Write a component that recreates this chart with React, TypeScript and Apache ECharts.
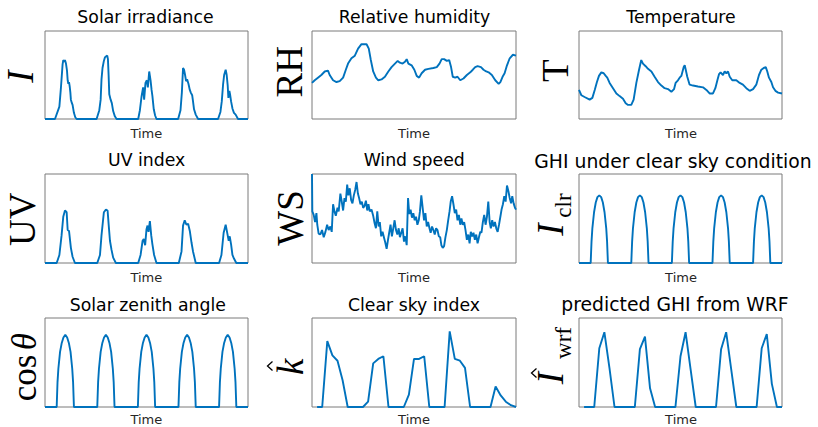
import React, { useEffect, useRef } from 'react';
import * as echarts from 'echarts';

const titles = [
  'Solar irradiance', 'Relative humidity', 'Temperature',
  'UV index', 'Wind speed', 'GHI under clear sky condition',
  'Solar zenith angle', 'Clear sky index', 'predicted GHI from WRF',
];
const xLabel = 'Time';

// [hour, normalised value]
const solarIrradiance = [
  [0, 0], [5.9, 0], [8.5, 0.14], [9.4, 0.35], [10.4, 0.62], [10.8, 0.67], [11.4, 0.65], [11.8, 0.67], [12.4, 0.63], [13.0, 0.55], [13.4, 0.44], [13.8, 0.4], [14.2, 0.42], [14.6, 0.37], [15.0, 0.3], [15.3, 0.22], [15.9, 0.18], [16.3, 0.16], [17.1, 0.07], [17.9, 0.02], [18.7, 0],
  [30.5, 0], [32.1, 0.1], [32.9, 0.22], [33.4, 0.45], [34.0, 0.58], [34.8, 0.66], [35.4, 0.7], [36.0, 0.71], [36.8, 0.72], [37.2, 0.68], [37.6, 0.5], [38.0, 0.28], [38.8, 0.22], [39.5, 0.18], [40.3, 0.09], [41.3, 0.03], [42.3, 0],
  [55.1, 0], [56.1, 0.1], [57.1, 0.26], [58.0, 0.36], [58.6, 0.22], [59.4, 0.41], [60.2, 0.44], [60.8, 0.36], [61.6, 0.54], [62.4, 0.44], [63.0, 0.33], [63.5, 0.26], [64.3, 0.11], [65.1, 0.04], [65.9, 0],
  [78.7, 0], [80.1, 0.1], [80.9, 0.3], [81.6, 0.58], [82.2, 0.56], [82.8, 0.5], [83.4, 0.43], [84.0, 0.45], [84.8, 0.4], [85.6, 0.33], [86.2, 0.3], [87.0, 0.27], [87.5, 0.2], [88.1, 0.11], [89.1, 0.05], [90.5, 0],
  [102.3, 0], [103.7, 0.08], [104.5, 0.2], [105.3, 0.4], [105.9, 0.5], [106.8, 0.56], [107.4, 0.5], [108.0, 0.38], [108.4, 0.24], [109.0, 0.32], [109.4, 0.28], [110.0, 0.2], [110.8, 0.12], [111.7, 0.07], [112.7, 0.05], [114.1, 0], [120, 0],
];

const relativeHumidity = [
  [0, 0.41], [1.6, 0.44], [3.5, 0.47], [5.5, 0.5], [7.5, 0.54], [9.4, 0.55], [10.4, 0.5], [12.4, 0.44], [14.4, 0.42], [16.3, 0.43], [18.3, 0.47], [19.9, 0.56], [21.2, 0.63], [23.2, 0.69], [25.2, 0.72], [27.1, 0.8], [29.1, 0.85], [32.1, 0.85], [33.4, 0.8], [34.6, 0.67], [36.0, 0.54], [37.6, 0.47], [39.0, 0.44], [40.9, 0.45], [42.9, 0.48], [44.9, 0.54], [46.8, 0.59], [48.8, 0.63], [50.4, 0.66], [51.7, 0.64], [53.3, 0.63], [54.7, 0.65], [55.7, 0.68], [56.7, 0.63], [58.6, 0.61], [60.2, 0.56], [61.6, 0.49], [63.0, 0.47], [64.5, 0.52], [66.5, 0.56], [68.5, 0.57], [71.4, 0.58], [73.4, 0.59], [75.0, 0.63], [76.3, 0.68], [77.7, 0.68], [79.3, 0.66], [80.7, 0.67], [81.8, 0.59], [82.8, 0.48], [84.2, 0.47], [85.6, 0.48], [87.2, 0.44], [89.1, 0.46], [91.1, 0.5], [93.1, 0.53], [94.6, 0.56], [96.0, 0.59], [97.4, 0.6], [99.4, 0.59], [100.9, 0.56], [102.5, 0.54], [103.9, 0.53], [105.8, 0.5], [107.8, 0.44], [109.8, 0.4], [110.8, 0.42], [112.1, 0.48], [113.3, 0.52], [114.7, 0.61], [116.3, 0.69], [118.2, 0.73], [120, 0.72],
];

const temperature = [
  [0, 0.33], [1.4, 0.27], [3.3, 0.25], [6.3, 0.22], [7.9, 0.24], [9.3, 0.33], [10.6, 0.42], [11.8, 0.49], [13.2, 0.53], [14.6, 0.52], [15.8, 0.49], [16.7, 0.47], [18.1, 0.41], [20.1, 0.35], [22.1, 0.29], [24.0, 0.26], [26.0, 0.23], [27.6, 0.18], [29.0, 0.16], [30.9, 0.16], [32.3, 0.22], [33.9, 0.41], [35.5, 0.56], [36.8, 0.67], [37.8, 0.63], [39.4, 0.6], [40.8, 0.57], [42.8, 0.54], [44.7, 0.48], [46.7, 0.42], [48.7, 0.38], [50.6, 0.35], [52.6, 0.34], [54.6, 0.31], [56.2, 0.34], [57.1, 0.41], [58.5, 0.44], [59.5, 0.47], [60.5, 0.49], [61.9, 0.59], [62.5, 0.61], [63.1, 0.56], [64.0, 0.48], [65.4, 0.39], [67.4, 0.38], [70.3, 0.37], [73.3, 0.36], [75.3, 0.33], [77.2, 0.29], [79.2, 0.29], [80.6, 0.35], [81.8, 0.44], [82.8, 0.51], [83.7, 0.53], [85.1, 0.5], [86.1, 0.54], [87.1, 0.52], [88.1, 0.54], [89.1, 0.48], [90.6, 0.44], [93.0, 0.44], [95.0, 0.41], [96.9, 0.39], [98.9, 0.35], [100.9, 0.32], [102.9, 0.34], [104.8, 0.39], [106.4, 0.5], [107.8, 0.56], [109.2, 0.58], [110.4, 0.59], [111.3, 0.54], [112.3, 0.47], [113.7, 0.42], [114.7, 0.36], [116.1, 0.32], [117.7, 0.3], [120, 0.29],
];

const uvIndex = [
  [0, 0], [6.9, 0], [8.5, 0.09], [9.8, 0.31], [10.8, 0.52], [11.8, 0.59], [12.8, 0.57], [13.4, 0.37], [14.2, 0.36], [15.3, 0.17], [16.3, 0.07], [17.7, 0],
  [30.9, 0], [32.5, 0.09], [33.4, 0.31], [34.8, 0.57], [36.0, 0.6], [37.0, 0.59], [37.6, 0.44], [38.4, 0.25], [39.3, 0.15], [40.3, 0.06], [41.9, 0],
  [55.1, 0], [56.5, 0.09], [57.7, 0.25], [58.4, 0.27], [59.2, 0.2], [60.0, 0.38], [60.6, 0.42], [61.2, 0.35], [62.0, 0.47], [62.8, 0.31], [63.5, 0.21], [64.5, 0.09], [65.9, 0],
  [79.1, 0], [80.7, 0.13], [81.6, 0.42], [82.6, 0.48], [83.6, 0.43], [84.6, 0.44], [85.6, 0.36], [86.6, 0.23], [87.5, 0.13], [89.1, 0],
  [102.9, 0], [104.3, 0.09], [105.6, 0.34], [106.8, 0.43], [107.8, 0.33], [108.6, 0.25], [109.2, 0.3], [110.0, 0.21], [110.8, 0.09], [111.7, 0.05], [113.1, 0], [120, 0],
];

const windSpeed = [
  [0, 1.0], [0.2, 0.58], [1.0, 0.54], [1.8, 0.46], [2.6, 0.56], [3.1, 0.43], [3.9, 0.33], [4.9, 0.32], [5.9, 0.37], [6.9, 0.29], [7.9, 0.35], [8.9, 0.43], [9.8, 0.37], [10.8, 0.41], [11.6, 0.35], [12.4, 0.66], [13.2, 0.58], [14.0, 0.53], [15.0, 0.62], [15.7, 0.58], [16.7, 0.78], [17.5, 0.69], [18.3, 0.59], [19.1, 0.73], [19.9, 0.69], [20.7, 0.88], [21.4, 0.76], [22.2, 0.84], [23.0, 0.71], [23.8, 0.67], [24.6, 0.76], [25.4, 0.82], [26.2, 0.91], [27.0, 0.78], [27.7, 0.73], [28.5, 0.66], [29.3, 0.69], [30.1, 0.62], [30.9, 0.64], [31.7, 0.7], [32.5, 0.59], [33.2, 0.66], [34.0, 0.58], [35.0, 0.6], [36.0, 0.53], [36.8, 0.45], [37.6, 0.39], [38.4, 0.58], [39.2, 0.41], [39.9, 0.46], [40.7, 0.3], [41.5, 0.35], [42.3, 0.29], [43.1, 0.23], [43.9, 0.16], [44.7, 0.26], [45.4, 0.34], [46.2, 0.43], [47.0, 0.3], [47.8, 0.39], [48.6, 0.48], [49.4, 0.37], [50.2, 0.32], [51.0, 0.39], [51.7, 0.29], [52.5, 0.34], [53.3, 0.39], [54.1, 0.24], [54.9, 0.3], [55.7, 0.2], [56.5, 0.73], [57.2, 0.55], [58.0, 0.6], [58.8, 0.51], [59.6, 0.56], [60.4, 0.48], [61.2, 0.52], [62.0, 0.43], [62.8, 0.48], [63.5, 0.58], [64.3, 0.76], [65.1, 0.62], [65.9, 0.48], [66.7, 0.56], [67.5, 0.41], [68.3, 0.46], [69.1, 0.39], [69.8, 0.34], [70.6, 0.41], [71.4, 0.37], [72.2, 0.32], [73.0, 0.39], [73.8, 0.37], [74.6, 0.3], [75.4, 0.29], [76.1, 0.2], [76.9, 0.17], [77.7, 0.19], [78.5, 0.29], [79.3, 0.37], [80.1, 0.48], [80.9, 0.58], [81.6, 0.69], [82.4, 0.75], [83.2, 0.66], [84.0, 0.56], [84.8, 0.6], [85.6, 0.48], [86.4, 0.54], [87.2, 0.43], [87.9, 0.5], [88.7, 0.43], [89.5, 0.46], [90.3, 0.37], [91.1, 0.26], [91.9, 0.32], [92.7, 0.22], [93.4, 0.35], [94.2, 0.3], [95.0, 0.34], [95.8, 0.26], [96.6, 0.32], [97.4, 0.22], [98.2, 0.29], [99.0, 0.35], [99.7, 0.34], [100.5, 0.46], [101.3, 0.54], [102.1, 0.43], [102.9, 0.52], [103.7, 0.69], [104.5, 0.46], [105.2, 0.39], [106.0, 0.48], [106.8, 0.41], [107.6, 0.46], [108.4, 0.39], [109.2, 0.35], [110.0, 0.43], [110.8, 0.52], [111.5, 0.6], [112.3, 0.66], [113.1, 0.75], [113.9, 0.69], [114.7, 0.87], [115.5, 0.81], [116.3, 0.73], [117.1, 0.67], [117.8, 0.75], [118.6, 0.67], [119.4, 0.62], [120, 0.6],
];

const clearSkyGhi = [
  [0, 0], [6.9, 0], [7.4, 0.24], [7.9, 0.39], [8.9, 0.57], [9.9, 0.68], [10.9, 0.74], [12.0, 0.76], [13.1, 0.74], [14.1, 0.68], [15.1, 0.57], [16.1, 0.39], [16.6, 0.24], [17.1, 0],
  [30.9, 0], [31.4, 0.24], [31.9, 0.39], [32.9, 0.57], [33.9, 0.68], [34.9, 0.74], [36.0, 0.76], [37.1, 0.74], [38.1, 0.68], [39.1, 0.57], [40.1, 0.39], [40.6, 0.24], [41.1, 0],
  [54.9, 0], [55.4, 0.24], [55.9, 0.39], [56.9, 0.57], [57.9, 0.68], [58.9, 0.74], [60.0, 0.76], [61.1, 0.74], [62.1, 0.68], [63.1, 0.57], [64.1, 0.39], [64.6, 0.24], [65.1, 0],
  [78.9, 0], [79.4, 0.24], [79.9, 0.39], [80.9, 0.57], [81.9, 0.68], [82.9, 0.74], [84.0, 0.76], [85.1, 0.74], [86.1, 0.68], [87.1, 0.57], [88.1, 0.39], [88.6, 0.24], [89.1, 0],
  [102.9, 0], [103.4, 0.24], [103.9, 0.39], [104.9, 0.57], [105.9, 0.68], [106.9, 0.74], [108.0, 0.76], [109.1, 0.74], [110.1, 0.68], [111.1, 0.57], [112.1, 0.39], [112.6, 0.24], [113.1, 0], [120, 0],
];

const cosZenith = [
  [0, 0], [6.9, 0], [7.4, 0.28], [7.9, 0.43], [8.9, 0.62], [9.9, 0.72], [10.9, 0.78], [12.0, 0.81], [13.1, 0.78], [14.1, 0.72], [15.1, 0.62], [16.1, 0.43], [16.6, 0.28], [17.1, 0],
  [30.9, 0], [31.4, 0.28], [31.9, 0.43], [32.9, 0.62], [33.9, 0.72], [34.9, 0.78], [36.0, 0.81], [37.1, 0.78], [38.1, 0.72], [39.1, 0.62], [40.1, 0.43], [40.6, 0.28], [41.1, 0],
  [54.9, 0], [55.4, 0.28], [55.9, 0.43], [56.9, 0.62], [57.9, 0.72], [58.9, 0.78], [60.0, 0.81], [61.1, 0.78], [62.1, 0.72], [63.1, 0.62], [64.1, 0.43], [64.6, 0.28], [65.1, 0],
  [78.9, 0], [79.4, 0.28], [79.9, 0.43], [80.9, 0.62], [81.9, 0.72], [82.9, 0.78], [84.0, 0.81], [85.1, 0.78], [86.1, 0.72], [87.1, 0.62], [88.1, 0.43], [88.6, 0.28], [89.1, 0],
  [102.9, 0], [103.4, 0.28], [103.9, 0.43], [104.9, 0.62], [105.9, 0.72], [106.9, 0.78], [108.0, 0.81], [109.1, 0.78], [110.1, 0.72], [111.1, 0.62], [112.1, 0.43], [112.6, 0.28], [113.1, 0], [120, 0],
];

const clearSkyIndex = [
  [3, 0], [6, 0], [9, 0.74], [12, 0.58], [15, 0.52], [18, 0.3], [21, 0], [24, 0], [27, 0], [30, 0], [33, 0.06], [36, 0.49], [39, 0.54], [42, 0.57], [45, 0], [48, 0], [51, 0], [54, 0], [57, 0.14], [60, 0.54], [63, 0.54], [66, 0.57], [69, 0], [72, 0], [75, 0], [78, 0], [81, 0.85], [84, 0.54], [87, 0.52], [90, 0.44], [93, 0], [96, 0], [99, 0], [102, 0], [105, 0], [108, 0.23], [111, 0.13], [114, 0.06], [117, 0.02], [120, 0],
];

const wrfGhi = [
  [3, 0], [6, 0], [9, 0], [12, 0.66], [15, 0.84], [18, 0.44], [21, 0], [24, 0], [27, 0], [30, 0], [33, 0], [36, 0.65], [39, 0.79], [42, 0.21], [45, 0], [48, 0], [51, 0], [54, 0], [57, 0], [60, 0.57], [63, 0.84], [66, 0.42], [69, 0], [72, 0], [75, 0], [78, 0], [81, 0], [84, 0.65], [87, 0.84], [90, 0.42], [93, 0], [96, 0], [99, 0], [102, 0], [105, 0], [108, 0.66], [111, 0.82], [114, 0.26], [117, 0], [120, 0],
];

const BLUE = '#0072BD';
const COLS = [{ left: 45, width: 203 }, { left: 312, width: 204 }, { left: 579, width: 203 }];
const ROWS = [{ top: 31, height: 88 }, { top: 174, height: 89 }, { top: 318, height: 89 }];
const TITLE_POS = [
  { x: 145.5, y: 17.4, size: 17.3 }, { x: 414.5, y: 17.4, size: 17.3 }, { x: 681, y: 17.4, size: 17.3 },
  { x: 146.7, y: 159.8, size: 17.3 }, { x: 414.2, y: 159.8, size: 17.3 }, { x: 673, y: 161.2, size: 18.8 },
  { x: 147.8, y: 305.1, size: 17.3 }, { x: 414, y: 305.1, size: 17.3 }, { x: 675, y: 304.5, size: 18.8 },
];
const TIME_X = [146.3, 414, 681];
const TIME_Y = [133.8, 277.2, 419.8];

const SERIF = '"Liberation Serif", "DejaVu Serif", serif';
const SANS = '"DejaVu Sans", sans-serif';

function yText(text: string, x: number, y: number, size: number, italic = false) {
  return {
    type: 'text', x, y, rotation: Math.PI / 2, silent: true,
    style: {
      text, fill: '#000', fontFamily: SERIF, fontSize: size,
      fontStyle: italic ? 'italic' : 'normal', align: 'center', verticalAlign: 'middle',
    },
  };
}

export default function App() {
  const ref = useRef<HTMLDivElement>(null);
  useEffect(() => {
    const chart = echarts.init(ref.current!, null, { renderer: 'svg' });
    const seriesData = [solarIrradiance, relativeHumidity, temperature, uvIndex, windSpeed, clearSkyGhi, cosZenith, clearSkyIndex, wrfGhi];
    const grids: any[] = [];
    const xAxes: any[] = [];
    const yAxes: any[] = [];
    const series: any[] = [];
    const graphics: any[] = [];
    seriesData.forEach((d, i) => {
      const r = Math.floor(i / 3);
      const c = i % 3;
      grids.push({
        left: COLS[c].left, top: ROWS[r].top, width: COLS[c].width, height: ROWS[r].height,
        show: true, borderColor: '#7a7a7a', borderWidth: 1, backgroundColor: 'transparent',
      });
      xAxes.push({ type: 'value', gridIndex: i, min: 0, max: 120, show: false });
      yAxes.push({ type: 'value', gridIndex: i, min: 0, max: 1, show: false });
      series.push({
        type: 'line', xAxisIndex: i, yAxisIndex: i, data: d, showSymbol: false, symbol: 'none',
        clip: false, silent: true, lineStyle: { color: BLUE, width: 1.9 }, itemStyle: { color: BLUE },
      });
      const t = TITLE_POS[i];
      graphics.push({
        type: 'text', x: t.x, y: t.y, silent: true,
        style: { text: titles[i], fill: '#000', fontFamily: SANS, fontSize: t.size, align: 'center', verticalAlign: 'middle' },
      });
      graphics.push({
        type: 'text', x: TIME_X[c], y: TIME_Y[r], silent: true,
        style: { text: xLabel, fill: '#262626', fontFamily: SANS, fontSize: 13, align: 'center', verticalAlign: 'middle' },
      });
    });

    graphics.push(yText('I', 20.8, 76.7, 37, true));
    graphics.push(yText('RH', 289.2, 71.7, 37));
    graphics.push(yText('T', 555.5, 70.8, 37));
    graphics.push(yText('UV', 22.5, 219.2, 37));
    graphics.push(yText('WS', 290.8, 218, 37));
    graphics.push(yText('I', 550.8, 229.5, 37, true));
    graphics.push(yText('clr', 563.5, 205.5, 23));
    graphics.push(yText('cos', 24.9, 378, 35));
    graphics.push(yText('θ', 24.9, 341.7, 35, true));
    graphics.push(yText('k', 290.8, 366.7, 37, true));
    graphics.push({
      type: 'polyline', silent: true,
      shape: { points: [[272.5, 361.5], [267.5, 366], [272.5, 370.5]] },
      style: { stroke: '#000', lineWidth: 1.3, fill: 'none' },
    });
    graphics.push(yText('I', 550.8, 378, 37, true));
    graphics.push(yText('wrf', 563.5, 343, 23));
    graphics.push({
      type: 'polyline', silent: true,
      shape: { points: [[536.5, 368.5], [531.5, 373], [536.5, 377.5]] },
      style: { stroke: '#000', lineWidth: 1.3, fill: 'none' },
    });

    chart.setOption({
      animation: false,
      backgroundColor: '#ffffff',
      grid: grids,
      xAxis: xAxes,
      yAxis: yAxes,
      series,
      graphic: { elements: graphics },
    });
    return () => chart.dispose();
  }, []);
  return (
    <div
      ref={ref}
      style={{ position: 'absolute', left: 0, top: 0, width: 818, height: 427, background: '#fff' }}
    />
  );
}
